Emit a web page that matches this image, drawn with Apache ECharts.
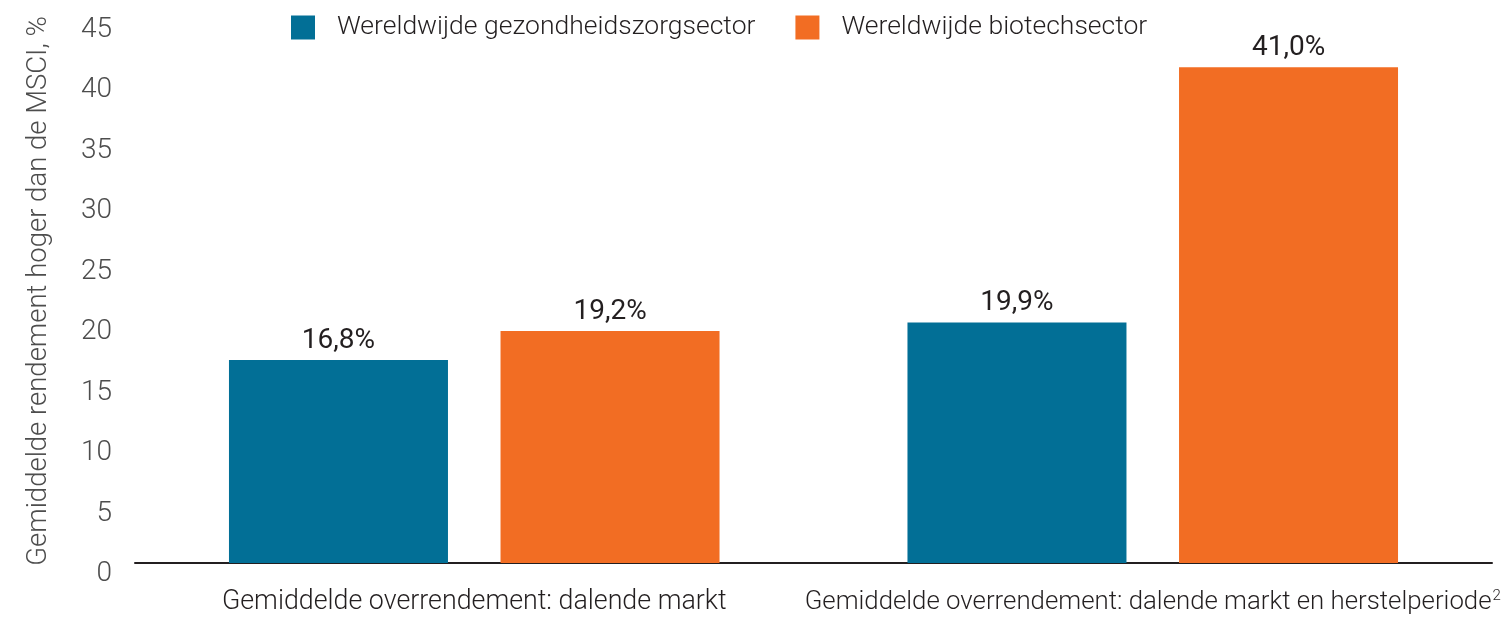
<!DOCTYPE html>
<html>
<head>
<meta charset="utf-8">
<script src="https://cdn.jsdelivr.net/npm/echarts@6/dist/echarts.min.js"></script>
<style>
html,body{margin:0;padding:0;background:#fff;}
#chart{width:1501px;height:628px;}
</style>
</head>
<body>
<div id="chart"></div>
<script>
var categories = ['Gemiddelde overrendement: dalende markt', 'Gemiddelde overrendement: dalende markt en herstelperiode'];
var categorySuperscripts = ['', '2'];
var seriesNames = ['Wereldwijde gezondheidszorgsector', 'Wereldwijde biotechsector'];
var healthcareValues = [16.8, 19.9];
var biotechValues = [19.2, 41.0];
var yTicks = [0, 5, 10, 15, 20, 25, 30, 35, 40, 45];
var yAxisTitle = 'Gemiddelde rendement hoger dan de MSCI, %';

var FONT = 'Roboto';
var chart = echarts.init(document.getElementById('chart'));
function pct(p) { return p.value.toFixed(1).replace('.', ',') + '%'; }
var labelCfg = {
  show: true, position: 'top', distance: 5, formatter: pct,
  fontFamily: FONT, fontSize: 28, fontWeight: 400, color: '#231f20'
};
chart.setOption({
  animation: false,
  textStyle: { fontFamily: FONT },
  legend: {
    top: 9, left: 286,
    itemWidth: 24, itemHeight: 24, itemGap: 40,
    icon: 'rect',
    textStyle: { fontFamily: FONT, fontSize: 26.5, fontWeight: 300, color: '#231f20', padding: [0, 0, 0, 17] },
    data: seriesNames
  },
  grid: { left: 135, right: 9, top: 19, bottom: 65, containLabel: false, outerBoundsMode: 'none' },
  xAxis: {
    type: 'category',
    data: categories,
    axisLine: { show: true, lineStyle: { color: '#231f20', width: 2 } },
    axisTick: { show: false },
    axisLabel: {
      interval: 0, hideOverlap: false,
      margin: 26,
      fontFamily: FONT, fontWeight: 300, color: '#231f20',
      formatter: function (v, i) {
        var s = categorySuperscripts[i];
        return s ? '{b|' + v + '}{sup|' + s + '}' : '{a|' + v + '}';
      },
      rich: {
        a: { fontSize: 26.8, fontFamily: FONT, fontWeight: 300, color: '#231f20' },
        b: { fontSize: 25.8, fontFamily: FONT, fontWeight: 300, color: '#231f20' },
        sup: { fontSize: 15, fontFamily: FONT, fontWeight: 300, color: '#231f20', verticalAlign: 'top', padding: [0, 0, 12, 1] }
      }
    }
  },
  yAxis: {
    type: 'value',
    min: yTicks[0], max: yTicks[yTicks.length - 1], interval: 5,
    axisLine: { show: false }, axisTick: { show: false }, splitLine: { show: false },
    axisLabel: {
      margin: 23, fontFamily: FONT, fontSize: 28, fontWeight: 300, color: '#4d4d4d',
      verticalAlign: 'top', lineHeight: 22
    },
    name: yAxisTitle,
    nameLocation: 'middle', nameGap: 82, nameRotate: 90,
    nameTextStyle: { fontFamily: FONT, fontSize: 27.5, fontWeight: 300, color: '#4d4d4d' }
  },
  series: [
    { name: seriesNames[0], type: 'bar', data: healthcareValues, barWidth: 219, barGap: '24%',
      itemStyle: { color: '#026f96' }, label: labelCfg },
    { name: seriesNames[1], type: 'bar', data: biotechValues, barWidth: 219,
      itemStyle: { color: '#f26d23' }, label: labelCfg }
  ]
});
</script>
</body>
</html>
